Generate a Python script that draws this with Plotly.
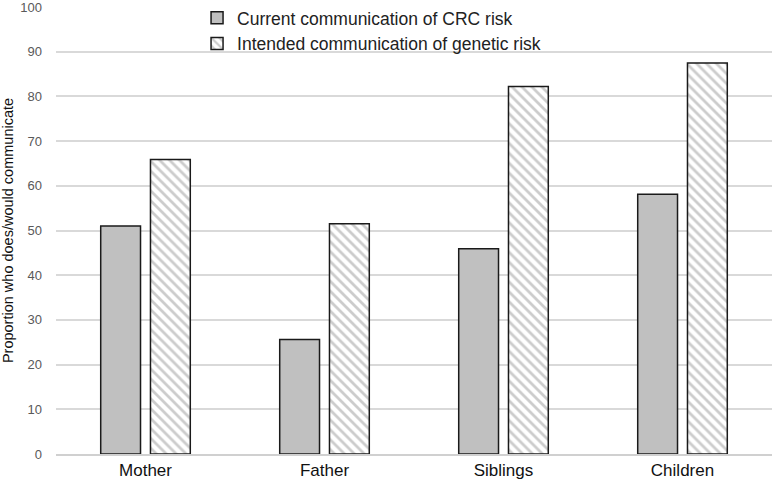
import plotly.graph_objects as go

categories = ["Mother", "Father", "Siblings", "Children"]
current_crc = [51.0, 25.6, 45.9, 58.1]
intended_genetic = [65.9, 51.5, 82.2, 87.5]
series_names = ["Current communication of CRC risk", "Intended communication of genetic risk"]
y_ticks = [0, 10, 20, 30, 40, 50, 60, 70, 80, 90, 100]

fig = go.Figure()
fig.add_trace(go.Bar(
    x=categories, y=current_crc, name=series_names[0],
    marker=dict(color="#c0c0c0", line=dict(color="#1a1a1a", width=1.5)),
))
fig.add_trace(go.Bar(
    x=categories, y=intended_genetic, name=series_names[1],
    marker=dict(color="white", line=dict(color="#1a1a1a", width=1.5),
                pattern=dict(shape="\\", fgcolor="#9a9a9a", bgcolor="white", size=7, solidity=0.4)),
))

fig.update_layout(
    width=777, height=487,
    margin=dict(l=56, r=5, t=7, b=33, autoexpand=False),
    paper_bgcolor="white", plot_bgcolor="white",
    barmode="group", bargap=0.444, bargroupgap=0.2,
    font=dict(family="Liberation Sans, Arial, sans-serif", color="#222"),
    legend=dict(x=0.197, y=1.016, xanchor="left", yanchor="top", bgcolor="rgba(0,0,0,0)",
                font=dict(size=17.5, color="#222"), itemwidth=30, tracegroupgap=0,
                borderwidth=0),
    showlegend=True,
)
fig.update_xaxes(
    showgrid=False, showline=True, linecolor="#d0d0d0", linewidth=1.5,
    tickfont=dict(size=17, color="#111"), ticks="", automargin=False,
)
fig.update_yaxes(
    range=[0, 100], tickvals=y_ticks, showgrid=True, gridcolor="#d9d9d9", gridwidth=1.5,
    zeroline=False, ticks="", ticklabelstandoff=13, ticklabeloverflow="allow",
    tickfont=dict(size=13, color="#595959"), automargin=False,
    title=dict(text="Proportion who does/would communicate", font=dict(size=14.5, color="#111"), standoff=10),
)
fig.write_html("out.html", config={"displayModeBar": False},
               post_script="document.body.style.margin='0px';document.body.style.overflow='hidden';")
